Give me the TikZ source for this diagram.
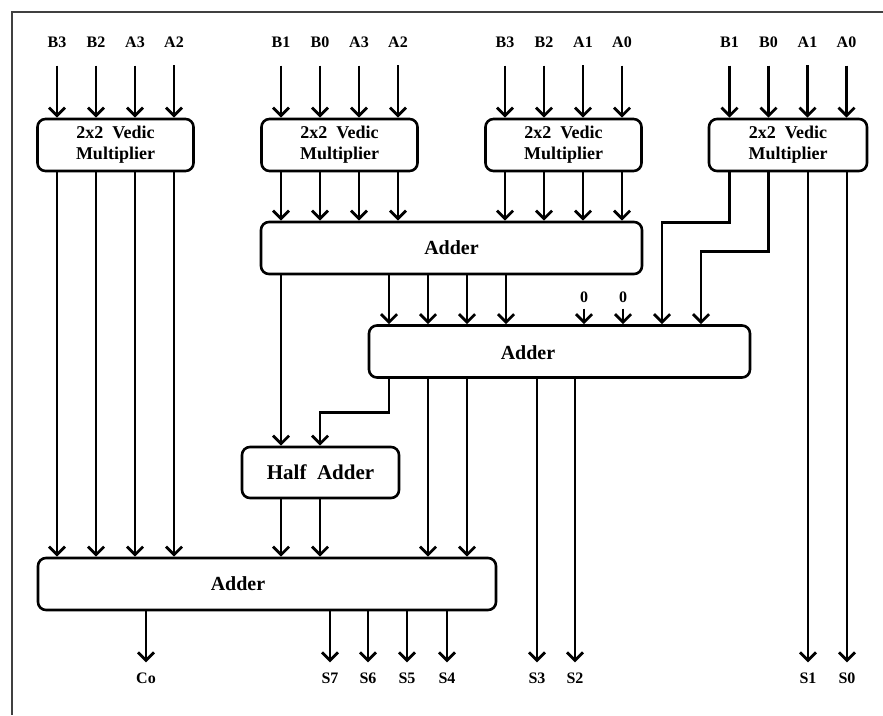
\documentclass[tikz,border=0pt]{standalone}
\usepackage{fontspec}
\setmainfont{Liberation Serif}
\usetikzlibrary{arrows.meta}

\tikzset{
    blk/.style={draw, line width=2.6pt, rounded corners=8pt, minimum height=52pt,
        inner sep=0pt, align=center, font=\bfseries\fontsize{18}{21}\selectfont},
    addtxt/.style={inner sep=0pt, font=\bfseries\fontsize{20}{22}\selectfont},
    lbl/.style={inner sep=1pt, font=\bfseries\fontsize{16}{18}\selectfont},
    arr/.style={line width=2.8pt, -{Straight Barb[length=8pt,width=16pt]}},
}

\begin{document}
\begin{tikzpicture}[x=1pt,y=-1pt]
    % Page of the reference (883 x 715, y grows downwards)
    \useasboundingbox (0,0) rectangle (883,715);

    % Frame, only its top and left edges show
    \draw[line width=2.5pt, black!75] (883,12) -- (12,12) -- (12,715);

    % The four 2x2 Vedic multipliers
    \node[blk, minimum width=156pt] (vm1) at (115.5,145) {2x2~ Vedic\\Multiplier};
    \node[blk, minimum width=156pt] (vm2) at (339.5,145) {2x2~ Vedic\\Multiplier};
    \node[blk, minimum width=156pt] (vm3) at (563.5,145) {2x2~ Vedic\\Multiplier};
    \node[blk, minimum width=158pt] (vm4) at (788,145) {2x2~ Vedic\\Multiplier};

    % Adders and the half adder
    \node[blk, minimum width=381pt] (add1) at (451.5,248) {};
    \node[addtxt] (add1txt) at (add1.center) {Adder};
    \node[blk, minimum width=381pt] (add2) at (559.5,351.5) {};
    \node[addtxt] (add2txt) at (528,353) {Adder};
    \node[blk, minimum width=157pt, minimum height=51pt,
        font=\bfseries\fontsize{21}{23}\selectfont] (ha) at (320.5,472.5) {Half~ Adder};
    \node[blk, minimum width=458pt] (add3) at (267,584) {};
    \node[addtxt] (add3txt) at (238,584) {Adder};

    % Inputs of the multipliers
    \foreach \m/\cx/\names in {1/115.5/{B3,B2,A3,A2}, 2/339.5/{B1,B0,A3,A2},
                               3/563.5/{B3,B2,A1,A0}, 4/788/{B1,B0,A1,A0}}{
        \foreach \t [count=\j] in \names {
            \node[lbl] (in\m\j) at (\cx-97.5+39*\j, 42) {\t};
            \draw[arr, shorten <=17pt] (in\m\j) -- (in\m\j |- vm\m.north);
        }
    }

    % Columns on the second adder
    \foreach \k in {1,...,9}
        \coordinate (p\k) at (350+39*\k, 300);

    % Multiplier 1 straight into the last adder
    \foreach \j in {1,...,4}
        \draw[arr] (vm1.south -| in1\j) -- (in1\j |- add3.north);

    % Multipliers 2 and 3 into the first adder
    \foreach \j in {1,...,4} {
        \draw[arr] (vm2.south -| in2\j) -- (in2\j |- add1.north);
        \draw[arr] (vm3.south -| in3\j) -- (in3\j |- add1.north);
    }

    % First adder into the second one, its carry into the half adder
    \foreach \k in {1,...,4}
        \draw[arr] (add1.south -| p\k) -- (p\k |- add2.north);
    \draw[arr] (add1.south -| in21) -- (in21 |- ha.north);

    % Zeros on the second adder
    \node[lbl] (zero1) at (584,297) {0};
    \node[lbl] (zero2) at (623,297) {0};
    \draw[arr, shorten <=5pt] (zero1) -- (zero1 |- add2.north);
    \draw[arr, shorten <=5pt] (zero2) -- (zero2 |- add2.north);

    % Upper bits of multiplier 4 bend into the second adder
    \draw[arr] (vm4.south -| in41) -- ++(0,50) -| (p8 |- add2.north);
    \draw[arr] (vm4.south -| in42) -- ++(0,79) -| (p9 |- add2.north);

    % Second adder outputs
    \draw[arr] (add2.south -| p1) -- ++(0,34) -| (in22 |- ha.north);
    \draw[arr] (add2.south -| p2) -- (p2 |- add3.north);
    \draw[arr] (add2.south -| p3) -- (p3 |- add3.north);

    % Half adder into the last adder
    \draw[arr] (ha.south -| in21) -- (in21 |- add3.north);
    \draw[arr] (ha.south -| in22) -- (in22 |- add3.north);

    % Product bits
    \node[lbl] (co) at (146,678) {Co};
    \node[lbl] (s7) at (330,678) {S7};
    \node[lbl] (s6) at (368,678) {S6};
    \node[lbl] (s5) at (407,678) {S5};
    \node[lbl] (s4) at (447,678) {S4};
    \node[lbl] (s3) at (537,678) {S3};
    \node[lbl] (s2) at (575,678) {S2};
    \node[lbl] (s1) at (808,678) {S1};
    \node[lbl] (s0) at (847,678) {S0};

    \foreach \s in {co,s7,s6,s5,s4}
        \draw[arr, shorten >=9pt] (add3.south -| \s) -- (\s);
    \draw[arr, shorten >=9pt] (add2.south -| s3) -- (s3);
    \draw[arr, shorten >=9pt] (add2.south -| s2) -- (s2);
    \draw[arr, shorten >=9pt] (vm4.south -| s1) -- (s1);
    \draw[arr, shorten >=9pt] (vm4.south -| s0) -- (s0);

\end{tikzpicture}
\end{document}
